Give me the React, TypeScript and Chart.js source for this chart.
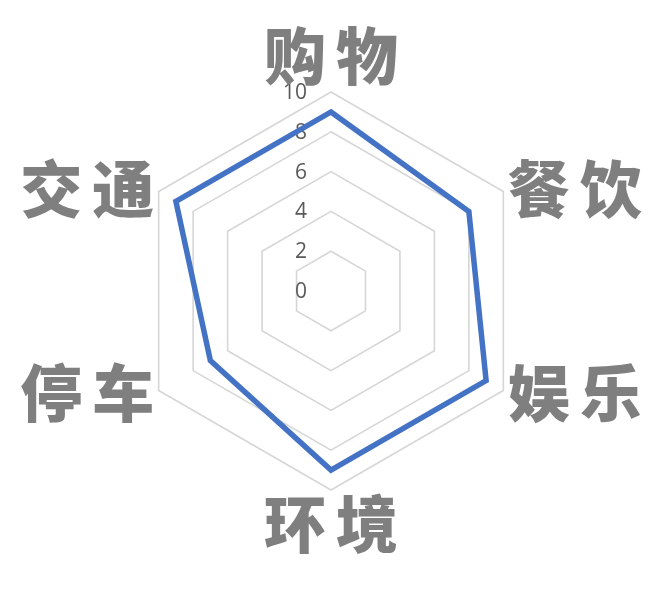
import React, { useEffect, useRef } from 'react';
import { Chart, registerables } from 'chart.js';

Chart.register(...registerables);

const categories = ['购物', '餐饮', '娱乐', '环境', '停车', '交通'];
const scores = [9, 8, 9, 9, 7, 9];
const tickValues = [0, 2, 4, 6, 8, 10];

const LABEL_SIZE = 62;
const LABEL_GAP = 10;
const LABEL_COLOR = '#7f7f7f';

// draws the big category labels and the tick numbers left of the top axis
const textPlugin = {
  id: 'radarText',
  beforeDatasetsDraw(chart: any) {
    const scale = chart.scales.r;
    const ctx = chart.ctx;
    ctx.save();
    ctx.font = '21px "Open Sans", "Noto Sans", sans-serif';
    ctx.fillStyle = '#595959';
    ctx.textAlign = 'right';
    ctx.textBaseline = 'middle';
    tickValues.forEach((v) => {
      const d = scale.getDistanceFromCenterForValue(v);
      ctx.fillText(String(v), scale.xCenter - 24, scale.yCenter - d + 1);
    });
    ctx.restore();
  },
  afterDraw(chart: any) {
    const scale = chart.scales.r;
    const ctx = chart.ctx;
    ctx.save();
    ctx.font = `900 ${LABEL_SIZE}px "Noto Sans CJK SC", sans-serif`;
    ctx.fillStyle = LABEL_COLOR;
    ctx.textAlign = 'left';
    ctx.textBaseline = 'alphabetic';
    const n = categories.length;
    categories.forEach((label, i) => {
      const angle = (360 / n) * i;
      const pos = scale.getPointPosition(i, scale.drawingArea + 5);
      const chars = label.split('');
      const total = chars.length * LABEL_SIZE + (chars.length - 1) * LABEL_GAP;
      let x0 = pos.x;
      if (angle === 0 || angle === 180) x0 = pos.x - total / 2;
      else if (angle > 180) x0 = pos.x - total;
      let yMid = pos.y;
      if (angle === 0) yMid = pos.y - 31;
      else if (angle === 180) yMid = pos.y + 29;
      const baseline = yMid + LABEL_SIZE * 0.38;
      chars.forEach((c, k) => {
        ctx.fillText(c, x0 + k * (LABEL_SIZE + LABEL_GAP), baseline);
      });
    });
    ctx.restore();
  },
};

const RadarChart: React.FC = () => {
  const canvasRef = useRef<HTMLCanvasElement>(null);
  const chartInstance = useRef<Chart | null>(null);

  useEffect(() => {
    if (!canvasRef.current) return;
    if (chartInstance.current) chartInstance.current.destroy();

    chartInstance.current = new Chart(canvasRef.current, {
      type: 'radar',
      data: {
        labels: categories,
        datasets: [
          {
            label: '评分',
            data: scores,
            borderColor: '#4472c4',
            backgroundColor: 'rgba(0,0,0,0)',
            borderWidth: 5.5,
            fill: false,
            pointRadius: 0,
            pointHoverRadius: 0,
          },
        ],
      },
      options: {
        responsive: true,
        maintainAspectRatio: false,
        animation: false,
        layout: { padding: { left: 124, right: 130, top: 84, bottom: 99 } },
        plugins: {
          legend: { display: false },
          tooltip: { enabled: false },
        },
        scales: {
          r: {
            min: tickValues[0],
            max: tickValues[tickValues.length - 1],
            ticks: { display: false, stepSize: tickValues[1] - tickValues[0] },
            grid: { color: '#d6d6d6', lineWidth: 1.6 },
            angleLines: { display: false },
            pointLabels: { display: false },
          },
        },
      },
      plugins: [textPlugin],
    });

    return () => {
      if (chartInstance.current) {
        chartInstance.current.destroy();
        chartInstance.current = null;
      }
    };
  }, []);

  return (
    <div style={{ position: 'relative', width: '100%', height: 581 }}>
      <canvas ref={canvasRef} />
    </div>
  );
};

export default function App() {
  return <RadarChart />;
}
